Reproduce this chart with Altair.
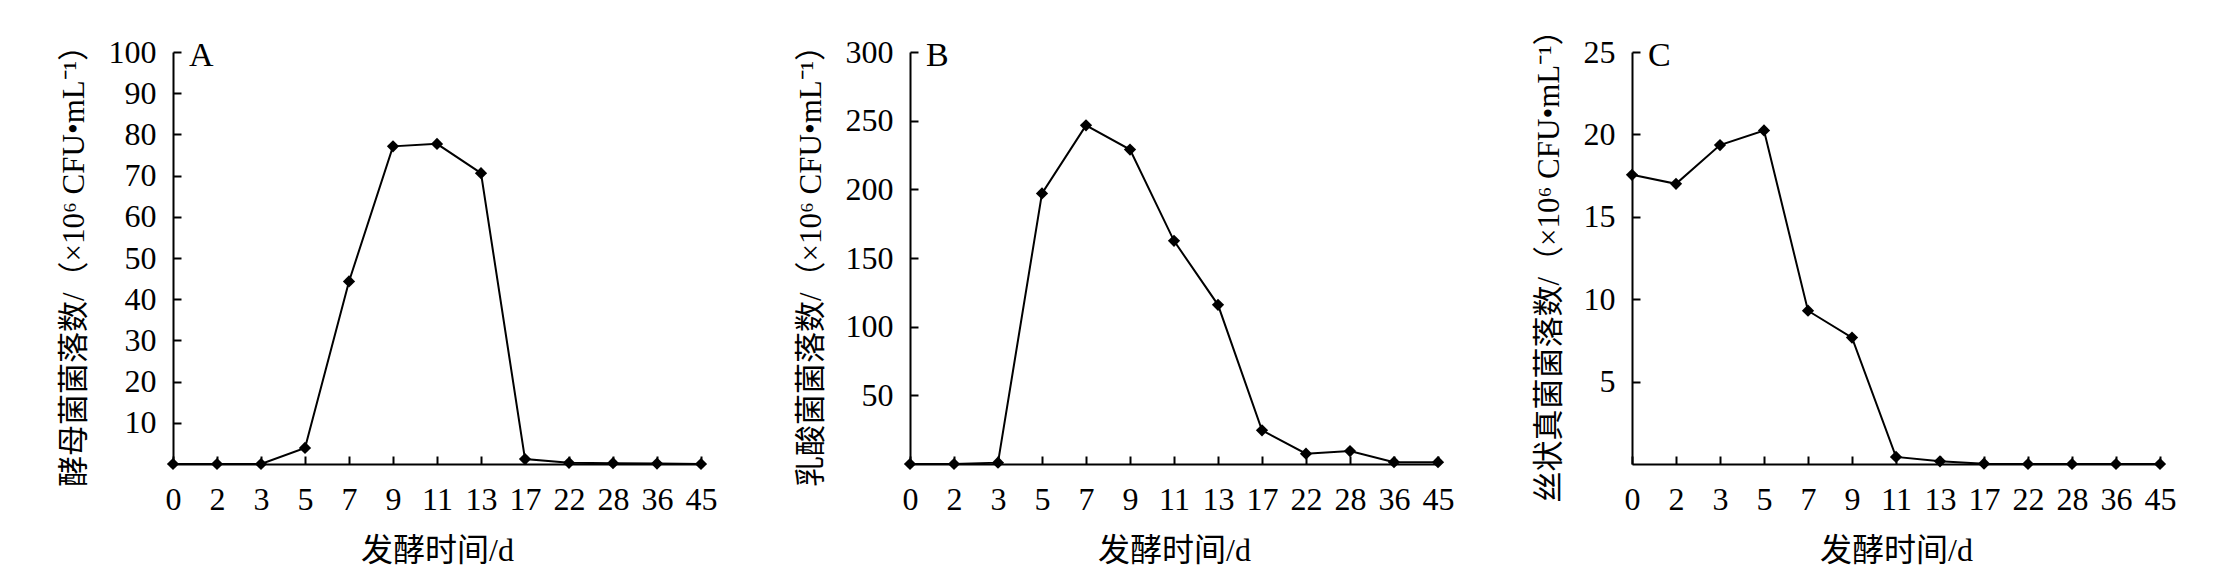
import altair as alt
import pandas as pd

days = ["0", "2", "3", "5", "7", "9", "11", "13", "17", "22", "28", "36", "45"]
yeast = [0, 0, 0, 3.9, 44.3, 77.1, 77.7, 70.6, 1.2, 0.3, 0.2, 0.1, 0]
lactic = [0, 0, 1, 197, 246.6, 229, 162.5, 115.9, 24.5, 7.5, 9.4, 1.3, 1.3]
mold = [17.55, 17.0, 19.35, 20.24, 9.3, 7.67, 0.43, 0.16, 0.02, 0, 0, 0, 0]

panel_labels = ["A", "B", "C"]
y_titles = [
    "酵母菌菌落数/（×10⁶ CFU•mL⁻¹）",
    "乳酸菌菌落数/（×10⁶ CFU•mL⁻¹）",
    "丝状真菌菌落数/（×10⁶ CFU•mL⁻¹）",
]
y_max = [100, 300, 25]
y_ticks = [
    [10, 20, 30, 40, 50, 60, 70, 80, 90, 100],
    [50, 100, 150, 200, 250, 300],
    [5, 10, 15, 20, 25],
]
x_title = "发酵时间/d"

FONT = "Liberation Serif, Noto Sans CJK SC"

AXIS_STYLE = dict(
    domainColor="black",
    domainWidth=2,
    tickColor="black",
    tickWidth=2,
    tickSize=alt.ExprRef(expr="-8"),
    labelFont=FONT,
    labelFontSize=32,
    labelColor="black",
    titleFont=FONT,
    titleFontWeight="normal",
    titleColor="black",
    grid=False,
)


def panel(values, label, ytitle, ymax, yticks):
    df = pd.DataFrame({"day": days, "count": values})
    x = alt.X(
        "day:O",
        sort=days,
        scale=alt.Scale(type="point", padding=0),
        axis=alt.Axis(
            title=x_title,
            labelAngle=0,
            labelPadding=28,
            titlePadding=20,
            titleFontSize=32,
            **AXIS_STYLE,
        ),
    )
    y = alt.Y(
        "count:Q",
        scale=alt.Scale(domain=[0, ymax], nice=False, zero=True),
        axis=alt.Axis(
            values=yticks,
            title=ytitle,
            labelPadding=25,
            titlePadding=18,
            titleFontSize=31,
            **AXIS_STYLE,
        ),
    )
    base = alt.Chart(df)
    line = base.mark_line(color="black", strokeWidth=2).encode(x=x, y=y)
    pts = base.mark_point(
        shape="diamond", filled=True, color="black", size=150, opacity=1
    ).encode(x=x, y=y)
    txt = (
        alt.Chart(pd.DataFrame({"t": [label]}))
        .mark_text(
            align="left",
            baseline="alphabetic",
            font=FONT,
            fontSize=34,
            color="black",
        )
        .encode(text="t:N", x=alt.value(16), y=alt.value(14))
    )
    return alt.layer(line, pts, txt).properties(width=528, height=412)


panels = [
    panel(yeast, panel_labels[0], y_titles[0], y_max[0], y_ticks[0]),
    panel(lactic, panel_labels[1], y_titles[1], y_max[1], y_ticks[1]),
    panel(mold, panel_labels[2], y_titles[2], y_max[2], y_ticks[2]),
]

chart = (
    alt.hconcat(*panels, spacing=78)
    .properties(
        padding={"left": 50, "top": 5, "right": 5, "bottom": 5},
        background="white",
    )
    .configure_view(stroke="transparent", strokeWidth=0)
)

chart.save("out.html", embed_options={"renderer": "svg", "actions": False})
